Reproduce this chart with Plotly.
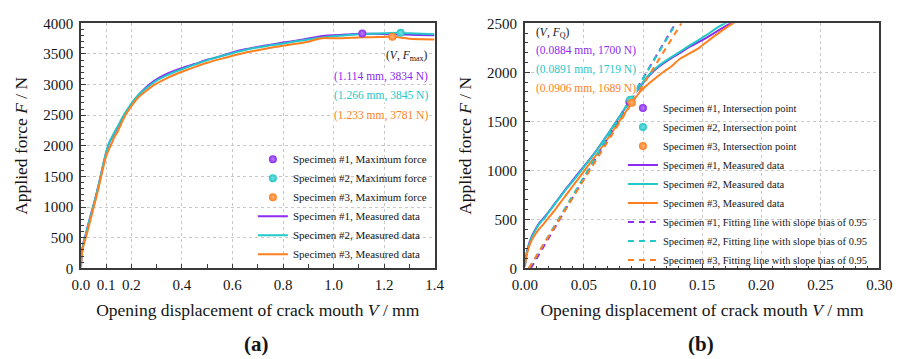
import plotly.graph_objects as go

# ---------------- data ----------------
specimens = ["Specimen #1", "Specimen #2", "Specimen #3"]
colors = ["#8B2CF0", "#22C8C8", "#FF7F1E"]
tints = ["#B980F6", "#7ADEDE", "#FFB278"]

V1 = [0, 0.001, 0.003, 0.006, 0.009, 0.0115, 0.0135, 0.016, 0.02, 0.025, 0.03, 0.035, 0.04, 0.0475, 0.055,
      0.061, 0.07, 0.08, 0.0884, 0.097, 0.105, 0.113, 0.122, 0.131, 0.14, 0.148, 0.156, 0.167, 0.18, 0.2,
      0.225, 0.25, 0.29, 0.333, 0.37, 0.41, 0.45, 0.5, 0.55, 0.6, 0.65, 0.7, 0.75, 0.8, 0.85, 0.9, 0.95,
      1.0, 1.05, 1.114, 1.16, 1.22, 1.28, 1.34, 1.4]
F1 = [25, 120, 230, 330, 400, 450, 480, 515, 575, 655, 735, 815, 890, 1005, 1115,
      1210, 1365, 1545, 1700, 1845, 1965, 2055, 2130, 2195, 2265, 2315, 2370, 2450, 2545, 2680,
      2815, 2925, 3060, 3160, 3225, 3285, 3335, 3405, 3460, 3525, 3575, 3615, 3650, 3685, 3715, 3750, 3790,
      3805, 3815, 3834, 3828, 3822, 3815, 3810, 3805]

V2 = [0, 0.001, 0.003, 0.006, 0.009, 0.012, 0.014, 0.0165, 0.02, 0.025, 0.03, 0.035, 0.04, 0.0478, 0.055,
      0.0615, 0.07, 0.08, 0.0891, 0.097, 0.105, 0.113, 0.122, 0.13, 0.139, 0.146, 0.153, 0.165, 0.18, 0.2,
      0.225, 0.256, 0.29, 0.333, 0.37, 0.41, 0.45, 0.5, 0.55, 0.603, 0.654, 0.7, 0.75, 0.8, 0.85, 0.9, 0.95,
      1.0, 1.05, 1.1, 1.15, 1.2, 1.266, 1.3, 1.35, 1.4]
F2 = [20, 110, 220, 320, 390, 450, 480, 510, 570, 650, 730, 810, 880, 1000, 1110,
      1215, 1365, 1545, 1719, 1850, 1975, 2065, 2140, 2200, 2270, 2320, 2375, 2470, 2570, 2695,
      2820, 2930, 3040, 3137, 3205, 3267, 3325, 3398, 3458, 3516, 3568, 3605, 3640, 3670, 3705, 3735, 3765,
      3790, 3805, 3820, 3830, 3838, 3845, 3836, 3828, 3822]

V3 = [0, 0.001, 0.003, 0.006, 0.009, 0.012, 0.015, 0.019, 0.025, 0.03, 0.035, 0.04, 0.0505, 0.06, 0.0705,
      0.08, 0.0906, 0.097, 0.104, 0.111, 0.1175, 0.124, 0.131, 0.139, 0.1475, 0.155, 0.165, 0.176, 0.19, 0.2,
      0.225, 0.256, 0.29, 0.333, 0.37, 0.41, 0.45, 0.5, 0.55, 0.6, 0.65, 0.7, 0.75, 0.8, 0.85, 0.9, 0.93,
      0.96, 1.0, 1.05, 1.1, 1.15, 1.2, 1.233, 1.27, 1.3, 1.35, 1.4]
F3 = [20, 100, 200, 290, 350, 400, 440, 500, 590, 670, 750, 830, 1000, 1150, 1330,
      1500, 1689, 1795, 1875, 1945, 2006, 2060, 2136, 2190, 2250, 2320, 2410, 2500, 2590, 2650,
      2780, 2890, 2995, 3090, 3160, 3225, 3285, 3355, 3415, 3470, 3520, 3560, 3600, 3635, 3665, 3700, 3735,
      3760, 3755, 3760, 3768, 3772, 3778, 3781, 3765, 3748, 3740, 3735]

V_meas = [V1, V2, V3]
F_meas = [F1, F2, F3]

# maximum force points (panel a)
V_max = [1.114, 1.266, 1.233]
F_max = [3834, 3845, 3781]

# intersection points (panel b)
V_q = [0.0884, 0.0891, 0.0906]
F_q = [1700, 1719, 1689]

# fitting lines with slope bias of 0.95 (end points)
V_fit = [[0.005, 0.1275], [0.0035, 0.128], [0.0033, 0.1325]]
F_fit = [[0, 2500], [0, 2500], [0, 2500]]

x_a_ticks = [0.0, 0.1, 0.2, 0.4, 0.6, 0.8, 1.0, 1.2, 1.4]
x_a_labels = ["0.0", "0.1", "0.2", "0.4", "0.6", "0.8", "1.0", "1.2", "1.4"]

# ---------------- figure ----------------
W, H = 904, 359
FONT = '"Liberation Serif", "Times New Roman", Times, "DejaVu Serif", serif'
AX = "#3a3a3a"
TXT = "#151515"


def px(x):
    return x / W


def py(y):
    return 1 - y / H


fig = go.Figure()

# panel (a) lines
for i in range(3):
    fig.add_trace(go.Scatter(x=V_meas[i], y=F_meas[i], mode="lines",
                             line=dict(color=colors[i], width=2, shape="spline", smoothing=0.5),
                             name=f"{specimens[i]}, Measured data",
                             xaxis="x", yaxis="y", legend="legend", legendrank=10 + i))
for i in range(3):
    fig.add_trace(go.Scatter(x=[V_max[i]], y=[F_max[i]], mode="markers",
                             marker=dict(color=colors[i], size=8,
                                         gradient=dict(type="radial", color=tints[i]),
                                         line=dict(width=0)),
                             name=f"{specimens[i]}, Maximum force",
                             xaxis="x", yaxis="y", legend="legend", legendrank=1 + i))

# panel (b)
for i in range(3):
    fig.add_trace(go.Scatter(x=V_meas[i], y=F_meas[i], mode="lines",
                             line=dict(color=colors[i], width=2, shape="spline", smoothing=0.5),
                             name=f"{specimens[i]}, Measured data",
                             xaxis="x2", yaxis="y2", legend="legend2", legendrank=10 + i))
for i in range(3):
    fig.add_trace(go.Scatter(x=V_fit[i], y=F_fit[i], mode="lines",
                             line=dict(color=colors[i], width=2, dash="6px,5px"),
                             name=f"{specimens[i]}, Fitting line with slope bias of 0.95",
                             xaxis="x2", yaxis="y2", legend="legend2", legendrank=20 + i))
for i in range(3):
    fig.add_trace(go.Scatter(x=[V_q[i]], y=[F_q[i]], mode="markers",
                             marker=dict(color=colors[i], size=8,
                                         gradient=dict(type="radial", color=tints[i]),
                                         line=dict(width=0)),
                             name=f"{specimens[i]}, Intersection point",
                             xaxis="x2", yaxis="y2", legend="legend2", legendrank=1 + i))

axis_common = dict(showline=True, linecolor=AX, linewidth=1.6, mirror=True,
                   ticks="inside", tickcolor=AX, tickwidth=1.4, ticklen=5,
                   showgrid=True, gridcolor="#c8c8c8", gridwidth=1, griddash="dot",
                   zeroline=False, tickfont=dict(family=FONT, size=15, color=TXT),
                   title_font=dict(family=FONT, size=17.5, color=TXT))

xt = "Opening displacement of crack mouth <i>V</i> / mm"
yt = "Applied force <i>F</i> / N"

fig.update_layout(
    width=W, height=H, margin=dict(l=0, r=0, t=0, b=0),
    paper_bgcolor="white", plot_bgcolor="white",
    font=dict(family=FONT, color=TXT),
    xaxis=dict(domain=[px(70), px(434)], range=[0, 1.4], tickvals=x_a_ticks, ticktext=x_a_labels,
               minor=dict(dtick=0.1, tick0=0, ticks="inside", ticklen=5, tickcolor=AX, tickwidth=1.4, showgrid=False),
               ticklabelstandoff=2, title=dict(text=xt, standoff=12), anchor="y", **axis_common),
    yaxis=dict(domain=[py(272.5), py(16)], range=[0, 4000], dtick=500,
               minor=dict(dtick=100, ticks="inside", ticklen=3, tickcolor=AX, tickwidth=1.2, showgrid=False),
               ticklabelstandoff=3, title=dict(text=yt, standoff=11), anchor="x", **axis_common),
    xaxis2=dict(domain=[px(527), px(892)], range=[0, 0.30], dtick=0.05, tickformat=".2f",
                minor=dict(dtick=0.01, ticks="inside", ticklen=3, tickcolor=AX, tickwidth=1.2, showgrid=False),
                ticklabelstandoff=2, title=dict(text=xt, standoff=12), anchor="y2", **axis_common),
    yaxis2=dict(domain=[py(272.5), py(16)], range=[0, 2500], dtick=500,
                minor=dict(dtick=100, ticks="inside", ticklen=3, tickcolor=AX, tickwidth=1.2, showgrid=False),
                ticklabelstandoff=3, title=dict(text=yt, standoff=11), anchor="x2", **axis_common),
    legend=dict(x=px(247), y=py(143), xanchor="left", yanchor="top", bgcolor="rgba(0,0,0,0)",
                font=dict(family=FONT, size=11, color=TXT), traceorder="normal"),
    legend2=dict(x=px(628), y=py(89.5), xanchor="left", yanchor="top", bgcolor="rgba(0,0,0,0)",
                 font=dict(family=FONT, size=10.5, color=TXT), traceorder="normal"),
    showlegend=True,
)

# white backgrounds behind the legends (above grid, below data)
fig.add_shape(type="rect", xref="paper", yref="paper", x0=px(255), x1=px(432), y0=py(150), y1=py(264),
              fillcolor="white", line=dict(width=0), layer="between")
fig.add_shape(type="rect", xref="paper", yref="paper", x0=px(633), x1=px(890), y0=py(98), y1=py(268),
              fillcolor="white", line=dict(width=0), layer="between")

ann_font = dict(family=FONT, size=11.5)
# panel (a) annotations
fig.add_annotation(text="(<i>V</i>, <i>F</i><sub>max</sub>)", x=px(428), y=py(50), xref="paper", yref="paper",
                   xanchor="right", yanchor="middle", showarrow=False, bgcolor="white", borderpad=0,
                   font=dict(color=TXT, **ann_font))
for i in range(3):
    fig.add_annotation(text=f"({V_max[i]:.3f} mm, {F_max[i]} N)", x=px(428), y=py(72 + 20 * i),
                       xref="paper", yref="paper", xanchor="right", yanchor="middle", showarrow=False,
                       bgcolor="white", borderpad=0, font=dict(color=colors[i], **ann_font))
# panel (b) annotations
fig.add_annotation(text="(<i>V</i>, <i>F</i><sub>Q</sub>)", x=px(537), y=py(26.5), xref="paper", yref="paper",
                   xanchor="left", yanchor="middle", showarrow=False, bgcolor="white", borderpad=0,
                   font=dict(color=TXT, **ann_font))
for i, yy in enumerate([45, 64, 84]):
    fig.add_annotation(text=f"({V_q[i]:.4f} mm, {F_q[i]} N)", x=px(537), y=py(yy),
                       xref="paper", yref="paper", xanchor="left", yanchor="middle", showarrow=False,
                       bgcolor="white", borderpad=0, font=dict(color=colors[i], **ann_font))

# sub-figure labels
fig.add_annotation(text="<b>(a)</b>", x=px(251), y=py(352), xref="paper", yref="paper",
                   xanchor="center", yanchor="middle", showarrow=False, font=dict(family=FONT, size=21, color=TXT))
fig.add_annotation(text="<b>(b)</b>", x=px(708), y=py(352), xref="paper", yref="paper",
                   xanchor="center", yanchor="middle", showarrow=False, font=dict(family=FONT, size=21, color=TXT))

fig.write_html("out.html")
